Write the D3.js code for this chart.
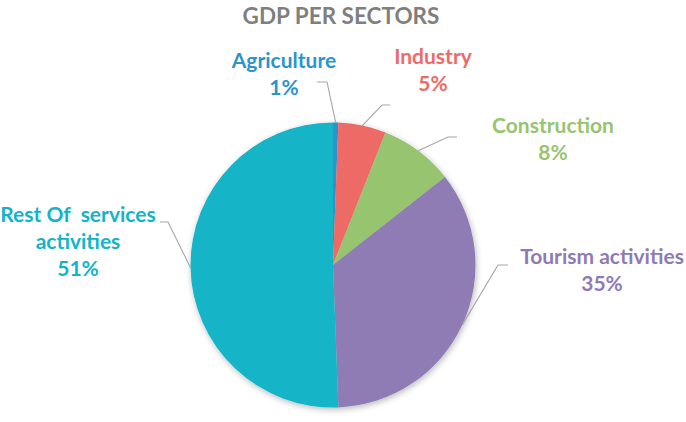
<!DOCTYPE html>
<html>
<head>
<meta charset="utf-8">
<script src="https://cdn.jsdelivr.net/npm/d3@7"></script>
<style>
  html, body { margin: 0; padding: 0; background: #fff; }
  svg { display: block; }
  text { font-family: Lato, "Open Sans", sans-serif; font-weight: bold; white-space: pre; }
</style>
</head>
<body>
<svg id="chart" width="686" height="422"></svg>
<script>
// ---- data ----
const title = "GDP PER SECTORS";
const categories = ["Agriculture", "Industry", "Construction", "Tourism activities", "Rest Of  services activities"];
const labelLines = [["Agriculture"], ["Industry"], ["Construction"], ["Tourism activities"], ["Rest Of  services", "activities"]];
const values = [0.6, 5.4, 8.4, 35.0, 50.6];
const colors = ["#2B94CA", "#ED6B66", "#97C46E", "#8F7BB4", "#13B4C7"];

// ---- layout (label placement, not data) ----
const layout = {
  cx: 333, cy: 265, r: 142.5,
  labels: [
    { x: 284, y: 68,  elbow: [327, 82],  end: [317, 82] },
    { x: 433, y: 64,  elbow: [382, 105], end: [390, 105] },
    { x: 553, y: 133, elbow: [448, 137], end: [457, 137] },
    { x: 602, y: 264, elbow: [498, 265], end: [508, 265] },
    { x: 78,  y: 222, elbow: [168, 222], end: [160, 222] }
  ],
  lineHeight: 27
};

const svg = d3.select("#chart");

const defs = svg.append("defs");
const f = defs.append("filter").attr("id", "shadow")
  .attr("x", "-20%").attr("y", "-20%").attr("width", "140%").attr("height", "140%");
f.append("feDropShadow").attr("dx", 1).attr("dy", 2).attr("stdDeviation", 3)
  .attr("flood-color", "#000").attr("flood-opacity", 0.28);

svg.append("text")
  .attr("x", 341).attr("y", 24)
  .attr("text-anchor", "middle")
  .attr("font-size", 22.5)
  .attr("fill", "#7F7F7F")
  .text(title);

const pie = d3.pie().sort(null).value(d => d)(values);
const arc = d3.arc().innerRadius(0).outerRadius(layout.r);

const g = svg.append("g").attr("transform", `translate(${layout.cx},${layout.cy})`);
g.append("g").attr("filter", "url(#shadow)")
  .selectAll("path").data(pie).join("path")
  .attr("d", arc)
  .attr("fill", (d, i) => colors[i]);

// leader lines
pie.forEach((d, i) => {
  const a = (d.startAngle + d.endAngle) / 2;
  const sx = layout.cx + layout.r * Math.sin(a);
  const sy = layout.cy - layout.r * Math.cos(a);
  const L = layout.labels[i];
  svg.append("polyline")
    .attr("points", [[sx, sy], L.elbow, L.end].map(p => p.join(",")).join(" "))
    .attr("fill", "none")
    .attr("stroke", "#A6A6A6")
    .attr("stroke-width", 1.1);
});

// labels
pie.forEach((d, i) => {
  const L = layout.labels[i];
  const t = svg.append("text")
    .attr("text-anchor", "middle")
    .attr("font-size", 21)
    .attr("fill", colors[i]);
  const lines = labelLines[i].concat([Math.round(values[i]) + "%"]);
  lines.forEach((s, k) => {
    t.append("tspan").attr("x", L.x).attr("y", L.y + k * layout.lineHeight).text(s);
  });
});
</script>
</body>
</html>
